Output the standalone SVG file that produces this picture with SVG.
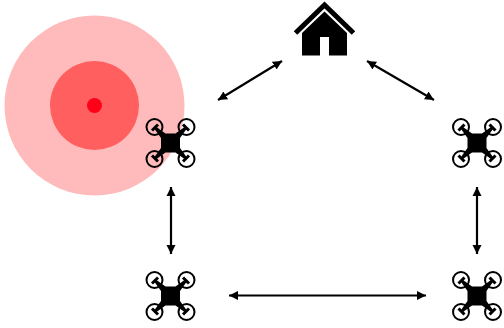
<svg xmlns="http://www.w3.org/2000/svg" width="504" height="328" viewBox="0 0 504 328">
<style>
.conn{stroke:#000;stroke-width:2.200;fill:none;marker-start:url(#head);marker-end:url(#head)}
.rotor{fill:none;stroke:#000;stroke-width:2}
.arm{fill:#000}
.blade{stroke:#000;stroke-width:3;fill:none}
</style>
<defs>
<marker id="head" markerUnits="userSpaceOnUse" markerWidth="11" markerHeight="11" refX="9" refY="5.500" orient="auto-start-reverse"><path d="M0 1L9 5.500L0 10Z" fill="#000"/></marker>
<g id="drone">
<rect x="-9.500" y="-9.500" width="19" height="19" fill="#000"/>
<circle class="rotor" cx="-16" cy="-16" r="8"/>
<circle class="rotor" cx="16" cy="-16" r="8"/>
<circle class="rotor" cx="-16" cy="16" r="8"/>
<circle class="rotor" cx="16" cy="16" r="8"/>
<path class="arm" d="M-9.500-5L-5-9.500L-14-16L-16-14ZM9.500-5L5-9.500L14-16L16-14ZM-9.500 5L-5 9.500L-14 16L-16 14ZM9.500 5L5 9.500L14 16L16 14Z"/>
<path class="blade" d="M-18.500-12.500L-12.500-18.500M18.500-12.500L12.500-18.500M-18.500 12.500L-12.500 18.500M18.500 12.500L12.500 18.500"/>
</g>
</defs>
<g id="hazard">
<circle cx="94.500" cy="105.500" r="90" fill="#ffbbbb"/>
<circle cx="94.500" cy="105.500" r="44.500" fill="#ff5f5f"/>
<circle cx="94.500" cy="105.500" r="7.500" fill="#ff0018"/>
</g>
<g id="connectors">
<line class="conn" x1="218" y1="100" x2="282" y2="61"/>
<line class="conn" x1="367" y1="61" x2="434" y2="100"/>
<line class="conn" x1="171" y1="187" x2="171" y2="254"/>
<line class="conn" x1="477" y1="187" x2="477" y2="254"/>
<line class="conn" x1="229" y1="295.500" x2="426" y2="295.500"/>
</g>
<g id="home">
<path d="M295.500 33L324.500 5L353.500 33" fill="none" stroke="#000" stroke-width="5"/>
<path d="M324.500 11.500L347 33V55.500H329V37H320V55.500H302V33Z" fill="#000"/>
</g>
<g id="drone-top-left"><use href="#drone" transform="translate(170.500 143)"/></g>
<g id="drone-top-right"><use href="#drone" transform="translate(477 143)"/></g>
<g id="drone-bottom-left"><use href="#drone" transform="translate(170.500 296)"/></g>
<g id="drone-bottom-right"><use href="#drone" transform="translate(477 296)"/></g>
</svg>
